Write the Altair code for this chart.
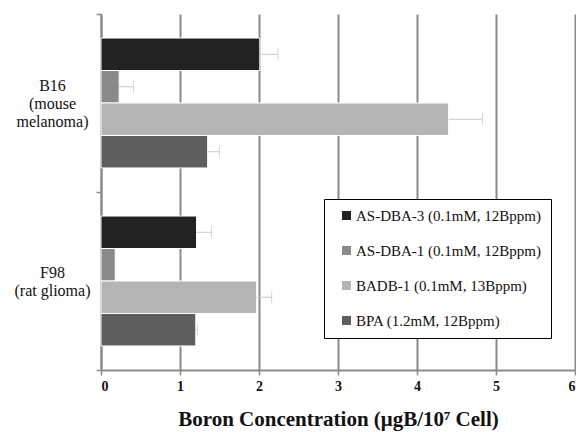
import altair as alt
import pandas as pd

# Cell lines (the "|" splits each label onto several lines)
cells = ["B16|(mouse|melanoma)", "F98|(rat glioma)"]

# Boron compounds, in drawing order
compounds = [
    "AS-DBA-3 (0.1mM, 12Bppm)",
    "AS-DBA-1 (0.1mM, 12Bppm)",
    "BADB-1 (0.1mM, 13Bppm)",
    "BPA (1.2mM, 12Bppm)",
]
colors = ["#222222", "#8a8a8a", "#b4b4b4", "#5e5e5e"]

# Mean boron concentration (µgB / 10^7 cells) per compound
b16_means = [2.01, 0.23, 4.40, 1.35]
f98_means = [1.21, 0.18, 1.97, 1.20]

# Standard deviation (upper error bar only)
b16_err = [0.23, 0.18, 0.43, 0.15]
f98_err = [0.19, 0.0, 0.19, 0.02]

rows = []
for cell, means, errs in [(cells[0], b16_means, b16_err), (cells[1], f98_means, f98_err)]:
    for comp, m, e in zip(compounds, means, errs):
        rows.append({"cell": cell, "compound": comp, "value": m, "upper": m + e, "err": e})
df = pd.DataFrame(rows)

serif = "Liberation Serif"
axis_gray = "#8a8a8a"

y_enc = alt.Y(
    "cell:N",
    sort=cells,
    scale=alt.Scale(paddingInner=0, paddingOuter=0),
    axis=alt.Axis(
        title=None,
        tickBand="extent",
        labelExpr="isValid(datum.value) ? split(datum.value, '|') : ''",
        labelAlign="center",
        labelBaseline="middle",
        labelLineHeight=18,
        labelFont=serif,
        labelFontSize=16,
        labelColor="#111111",
        labelPadding=44,
        # lift multi-line labels so the block is centred on its band
        labelOffset={
            "condition": {"test": f"datum.value == '{cells[0]}'", "value": -18},
            "value": -9,
        },
        tickSize=5,
        tickColor=axis_gray,
        tickWidth=1.5,
        domainColor=axis_gray,
        domainWidth=2,
        grid=False,
    ),
)
yoff_enc = alt.YOffset(
    "compound:N",
    sort=compounds,
    scale=alt.Scale(paddingInner=0, paddingOuter=0.74),
)
x_scale = alt.Scale(domain=[0, 6], nice=False)

bars = alt.Chart(df).mark_bar(stroke="white", strokeWidth=1).encode(
    x=alt.X(
        "value:Q",
        scale=x_scale,
        axis=alt.Axis(
            values=[0, 1, 2, 3, 4, 5, 6],
            format="d",
            grid=True,
            gridColor=axis_gray,
            gridWidth=2,
            domainColor=axis_gray,
            domainWidth=2,
            tickColor=axis_gray,
            tickSize=5,
            tickWidth=1.5,
            labelFont=serif,
            labelFontSize=14,
            labelFontWeight="bold",
            labelColor="#111111",
            labelPadding=4,
            title="Boron Concentration (μgB/10⁷ Cell)",
            titleFont=serif,
            titleFontSize=21,
            titleFontWeight="bold",
            titleColor="#111111",
            titlePadding=15,
        ),
    ),
    y=y_enc,
    yOffset=yoff_enc,
    color=alt.Color(
        "compound:N",
        sort=compounds,
        scale=alt.Scale(domain=compounds, range=colors),
        legend=alt.Legend(
            title=None,
            orient="none",
            legendX=223,
            legendY=185,
            direction="vertical",
            symbolType="square",
            symbolSize=81,
            symbolStrokeWidth=0,
            symbolOffset=6,
            labelFont=serif,
            labelFontSize=15,
            labelColor="#111111",
            labelOffset=2,
            rowPadding=19,
            padding=9,
            strokeColor="black",
            fillColor="white",
            labelLimit=400,
        ),
    ),
)

err_df = df[df["err"] > 0]

err_lines = alt.Chart(err_df).mark_rule(color="#c8c8c8", strokeWidth=1).encode(
    x=alt.X("value:Q", scale=x_scale),
    x2="upper:Q",
    y=alt.Y("cell:N", sort=cells),
    yOffset=alt.YOffset("compound:N", sort=compounds),
)

err_caps = alt.Chart(err_df).mark_tick(color="#c8c8c8", thickness=1, size=12).encode(
    x=alt.X("upper:Q", scale=x_scale),
    y=alt.Y("cell:N", sort=cells),
    yOffset=alt.YOffset("compound:N", sort=compounds),
)

chart = (
    alt.layer(bars, err_lines, err_caps)
    .properties(
        width=474,
        height=356,
        autosize=alt.AutoSizeParams(type="none"),
        padding={"left": 101, "top": 14, "right": 1, "bottom": 62},
        background="white",
    )
    .configure(font=serif)
    .configure_view(stroke=None)
)

chart.save("out.html", embed_options={"renderer": "svg", "actions": False})
